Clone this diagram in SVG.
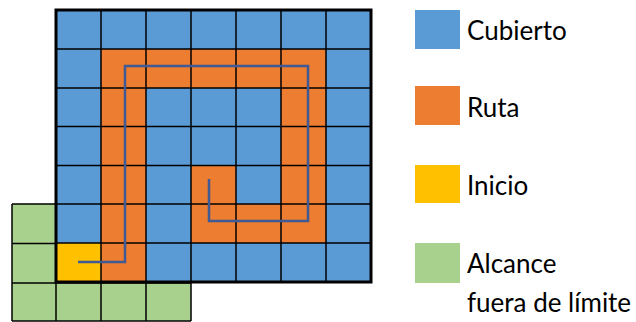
<svg xmlns="http://www.w3.org/2000/svg" width="636" height="322" viewBox="0 0 636 322">
<style>
.b{fill:#5B9BD5}
.o{fill:#ED7D31}
.y{fill:#FFC000}
.g{fill:#A9D18E}
.grid{stroke:#000;stroke-width:1.5;fill:none}
.border{stroke:#000;stroke-width:3;fill:none}
.path{stroke:#3F5A94;stroke-width:2.5;fill:none;stroke-linejoin:miter}
.t{font-family:Lato,"Liberation Sans",sans-serif;font-size:26px;fill:#000}
</style>
<rect width="636" height="322" fill="#fff"/>
<g id="outside">
<rect class="g" x="12" y="204" width="44" height="79"/>
<rect class="g" x="12" y="283" width="179" height="38"/>
<path class="grid" d="M12,204H56M12,243.5H56M12,283H191M12,321H191M12,204V321M56,283V321M101,283V321M146,283V321M191,283V321"/>
</g>
<g id="grid">
<rect class="b" x="56" y="10" width="315" height="272"/>
<g class="o">
<rect x="101" y="49" width="225" height="39"/>
<rect x="101" y="49" width="45" height="233"/>
<rect x="281" y="49" width="45" height="194"/>
<rect x="191" y="165" width="135" height="78"/>
</g>
<rect class="b" x="236" y="165" width="45" height="39"/>
<rect class="y" x="56" y="243" width="45" height="39"/>
<path class="grid" d="M101,10V282M146,10V282M191,10V282M236,10V282M281,10V282M326,10V282M56,49H371M56,88H371M56,126.5H371M56,165.5H371M56,204H371M56,243H371"/>
<rect class="border" x="56" y="10" width="315" height="272"/>
</g>
<g id="connectors">
<path class="path" d="M78,262H125V66H308V221H209V179"/>
</g>
<g id="legend-cubierto">
<rect class="b" x="415" y="10" width="45" height="39"/>
<text class="t" x="467" y="40">Cubierto</text>
</g>
<g id="legend-ruta">
<rect class="o" x="415" y="86" width="45" height="39"/>
<text class="t" x="467" y="116.5">Ruta</text>
</g>
<g id="legend-inicio">
<rect class="y" x="415" y="165" width="45" height="38"/>
<text class="t" x="467" y="195">Inicio</text>
</g>
<g id="legend-alcance">
<rect class="g" x="415" y="243" width="45" height="40"/>
<text class="t" x="467" y="272.5">Alcance</text>
<text class="t" x="467" y="311.5">fuera de límite</text>
</g>
</svg>
